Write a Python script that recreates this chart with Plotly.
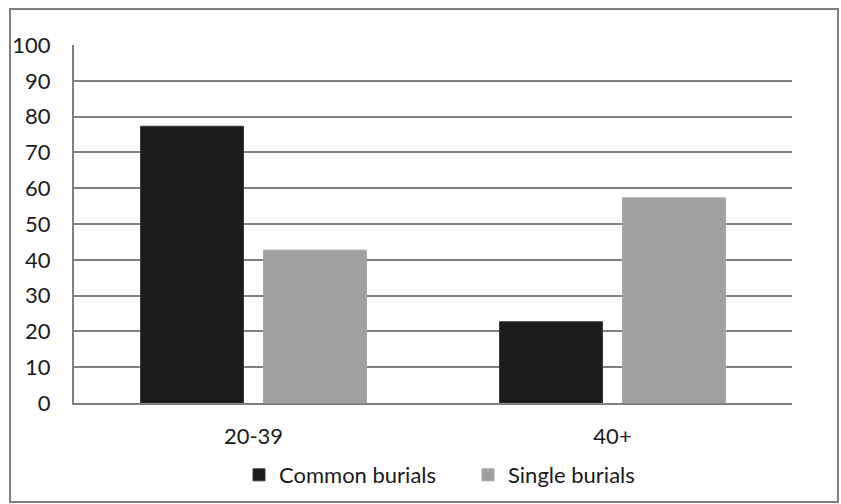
import plotly.graph_objects as go

categories = ["20-39", "40+"]
common_burials = [77.3, 22.7]
single_burials = [42.7, 57.3]
y_ticks = [0, 10, 20, 30, 40, 50, 60, 70, 80, 90, 100]

W, H = 841, 504
L, R, T, B = 74, 49, 45, 101
pw, ph = W - L - R, H - T - B

def px_x(px):
    return (px - L) / pw

def px_y(py):
    return (H - B - py) / ph

fig = go.Figure()
fig.add_trace(go.Bar(x=categories, y=common_burials, name="Common burials",
                     marker=dict(color="#1c1c1c", line=dict(color="#3a3a3a", width=1))))
fig.add_trace(go.Bar(x=categories, y=single_burials, name="Single burials",
                     marker=dict(color="#a0a0a0", line=dict(color="#a6a6a6", width=1))))

font = dict(family="Lato, Open Sans, sans-serif", size=22, color="#1a1a1a")

fig.update_layout(
    width=W, height=H,
    margin=dict(l=L, r=R, t=T, b=B, autoexpand=False),
    paper_bgcolor="white", plot_bgcolor="white",
    font=font,
    barmode="group", bargap=0.315, bargroupgap=0.163,
    showlegend=True,
    legend=dict(orientation="h", x=px_x(239), xanchor="left", y=px_y(475), yanchor="middle",
                font=font, itemwidth=30, entrywidth=184, bgcolor="rgba(0,0,0,0)"),
    xaxis=dict(showline=True, linecolor="#808080", linewidth=2, showgrid=False, automargin=False,
               ticks="", ticklabelstandoff=13, tickfont=font),
    yaxis=dict(range=[0, 100], tickvals=y_ticks, showgrid=True, gridcolor="#808080", gridwidth=2,
               showline=True, linecolor="#808080", linewidth=2, zeroline=False, automargin=False,
               ticks="", ticklabelstandoff=17, tickfont=font),
    shapes=[dict(type="rect", xref="paper", yref="paper",
                 x0=px_x(10), x1=px_x(838), y0=px_y(502), y1=px_y(9),
                 line=dict(color="#808080", width=2), layer="below")],
)

fig.write_html("out.html", config={"displayModeBar": False},
               post_script="document.body.style.margin='0';document.body.style.overflow='hidden';")
